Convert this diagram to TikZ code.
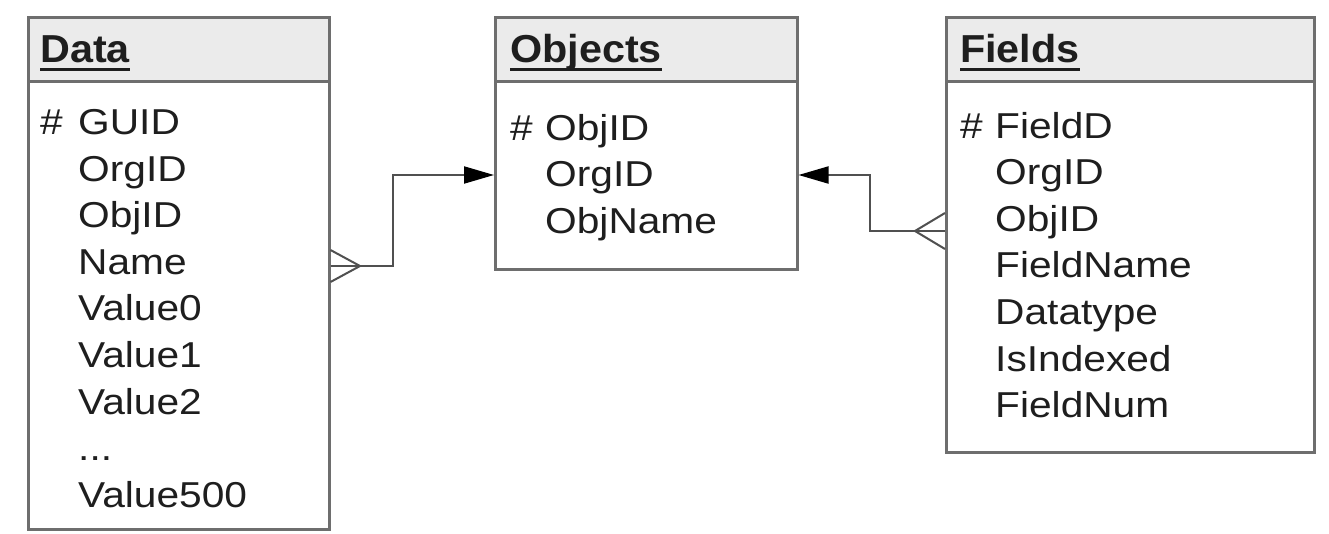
\documentclass[tikz,border=0pt]{standalone}
\usepackage{fontspec}
\setmainfont{Liberation Sans}
\newfontfamily\bodyfont[FakeStretch=1.13]{Liberation Sans}
\newfontfamily\headfont[FakeStretch=1.06]{Liberation Sans}
\usetikzlibrary{arrows.meta}
\definecolor{ERBorder}{HTML}{6E6E6E}
\definecolor{ERLink}{HTML}{505050}
\definecolor{ERHead}{HTML}{EBEBEB}
\definecolor{ERText}{HTML}{1E1E1E}

\begin{document}
\begin{tikzpicture}[x=1pt,y=-1pt,
    box/.style={draw=ERBorder,line width=2.5pt,anchor=north west,inner sep=0pt},
    head/.style={box,fill=ERHead,minimum height=64pt},
    title/.style={anchor=base west,inner sep=0pt,text=ERText,
      font=\headfont\bfseries\fontsize{39}{44}\selectfont},
    field/.style={anchor=base west,inner sep=0pt,text=ERText,
      font=\bodyfont\fontsize{36}{40}\selectfont},
    link/.style={draw=ERLink,line width=2pt},
    one/.style={-{Triangle[length=30pt,width=17pt,color=black]}}]
    \useasboundingbox (0,0) rectangle (1329,533);
    % tables
    \node[head,minimum width=301pt] (dataH) at (27,16) {};
    \node[box,minimum width=301pt,minimum height=448pt] (dataB) at (27,80) {};
    \node[head,minimum width=302pt] (objH) at (494,16) {};
    \node[box,minimum width=302pt,minimum height=188pt] (objB) at (494,80) {};
    \node[head,minimum width=368pt] (fldH) at (945,16) {};
    \node[box,minimum width=368pt,minimum height=371pt] (fldB) at (945,80) {};
    % titles
    \node[title] (dataT) at (40,62) {Data};
    \node[title] (objT) at (510,62) {Objects};
    \node[title] (fldT) at (960,62) {Fields};
    \foreach \t in {dataT,objT,fldT}{
      \draw[ERText,line width=3pt] ([yshift=-7pt]\t.base west) -- ([yshift=-7pt]\t.base east);}
    % columns
    \node[field] (dataK) at (40,134.5) {\#};
    \foreach \f [count=\i from 0] in {GUID,OrgID,ObjID,Name,Value0,Value1,Value2,{.\kern0pt.\kern0pt.},Value500}{
      \node[field] (data-\i) at (78,134.5+46.6*\i) {\f};}
    \node[field] (objK) at (510,140) {\#};
    \foreach \f [count=\i from 0] in {ObjID,OrgID,ObjName}{
      \node[field] (obj-\i) at (545,140+46.6*\i) {\f};}
    \node[field] (fldK) at (960,138) {\#};
    \foreach \f [count=\i from 0] in {FieldD,OrgID,ObjID,FieldName,Datatype,IsIndexed,FieldNum}{
      \node[field] (fld-\i) at (995,138+46.6*\i) {\f};}
    % links
    \draw[link,one] (dataB.east |- 0,266) -- (393,266) |- (objB.west |- 0,175);
    \draw[link] (dataB.east |- 0,250) -- (360,266) -- (dataB.east |- 0,282);
    \draw[link,one] (fldB.west |- 0,231) -- (870,231) |- (objB.east |- 0,175);
    \draw[link] (fldB.west |- 0,213) -- (915,231) -- (fldB.west |- 0,249);
\end{tikzpicture}
\end{document}
